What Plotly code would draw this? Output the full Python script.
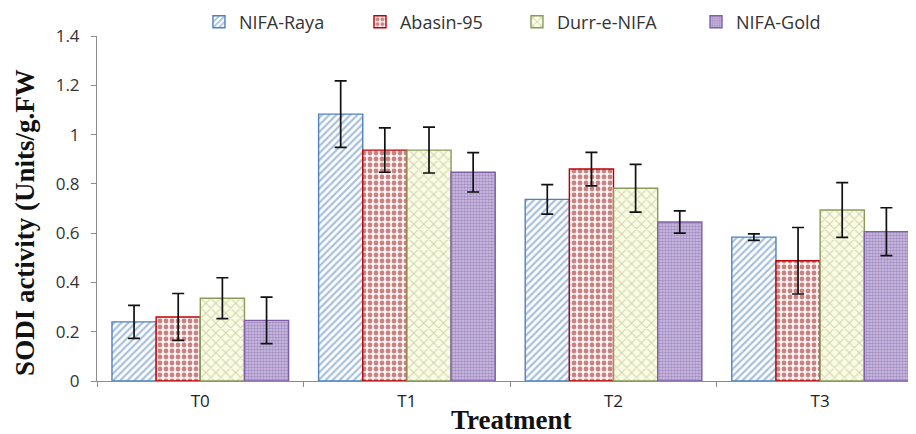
import plotly.graph_objects as go

categories = ["T0", "T1", "T2", "T3"]
series_names = ["NIFA-Raya", "Abasin-95", "Durr-e-NIFA", "NIFA-Gold"]

nifa_raya = [0.24, 1.083, 0.737, 0.584]
nifa_raya_err = [0.067, 0.135, 0.06, 0.013]
abasin_95 = [0.26, 0.937, 0.86, 0.488]
abasin_95_err = [0.095, 0.09, 0.068, 0.135]
durr_e_nifa = [0.336, 0.937, 0.782, 0.694]
durr_e_nifa_err = [0.083, 0.093, 0.097, 0.111]
nifa_gold = [0.246, 0.847, 0.645, 0.606]
nifa_gold_err = [0.094, 0.08, 0.045, 0.097]

y_ticks = [0, 0.2, 0.4, 0.6, 0.8, 1.0, 1.2, 1.4]
y_tick_labels = ["0", "0.2", "0.4", "0.6", "0.8", "1", "1.2", "1.4"]

x_title = "Treatment"
y_title = "SODI activity (Units/g.FW"

values = [nifa_raya, abasin_95, durr_e_nifa, nifa_gold]
errors = [nifa_raya_err, abasin_95_err, durr_e_nifa_err, nifa_gold_err]

styles = [
    dict(line="#4F81BD", pattern=dict(shape="/", fgcolor="#4F81BD", bgcolor="#ffffff",
                                       size=5, solidity=0.45, fillmode="overlay")),
    dict(line="#C00000", pattern=dict(shape=".", fgcolor="#8b1414", bgcolor="#fff2f2",
                                       size=6, solidity=0.5, fillmode="overlay")),
    dict(line="#8a9a5b", pattern=dict(shape="x", fgcolor="#a3b272", bgcolor="#fbfbe6",
                                       size=7, solidity=0.3, fillmode="overlay")),
    dict(line="#7F5FA8", pattern=dict(shape=".", fgcolor="#7a5ca3", bgcolor="#cfc3e4",
                                       size=3, solidity=0.6, fillmode="overlay")),
]

legend_ids = ["legend2", "legend3", "legend4", "legend5"]
legend_x = [0.1245, 0.3211, 0.5128, 0.7314]

fig = go.Figure()
for name, vals, errs, st, lid in zip(series_names, values, errors, styles, legend_ids):
    fig.add_trace(go.Bar(
        name=name,
        x=categories,
        y=vals,
        legend=lid,
        error_y=dict(type="data", array=errs, visible=True, color="#111111",
                     thickness=1.7, width=6),
        marker=dict(color=st["pattern"]["bgcolor"],
                    line=dict(color=st["line"], width=1.4),
                    pattern=st["pattern"]),
    ))

serif = "'Liberation Serif', 'Times New Roman', 'DejaVu Serif', serif"

legend_layout = {}
for lid, lx in zip(legend_ids, legend_x):
    legend_layout[lid] = dict(
        orientation="h", x=lx, xanchor="left",
        yref="container", y=0.967, yanchor="middle",
        font=dict(size=18, family="'Open Sans', sans-serif", color="#333333"),
        bgcolor="rgba(0,0,0,0)",
    )

fig.update_layout(
    width=908,
    height=426,
    barmode="group",
    bargap=0.145,
    bargroupgap=0,
    showlegend=True,
    plot_bgcolor="white",
    paper_bgcolor="white",
    margin=dict(l=89, r=0, t=28, b=53, autoexpand=False),
    font=dict(family="'Open Sans', sans-serif", color="#333333"),
    xaxis=dict(
        range=[-0.5, 3.464],
        showline=True, linecolor="#8c8c8c", linewidth=1,
        ticks="outside", tickson="boundaries", ticklen=5, tickcolor="#8c8c8c",
        ticklabelstandoff=5,
        tickfont=dict(size=17, family="'Open Sans', sans-serif", color="#222222"),
        showgrid=False,
    ),
    yaxis=dict(
        range=[0, 1.4],
        tickvals=y_ticks, ticktext=y_tick_labels,
        showline=True, linecolor="#8c8c8c", linewidth=1,
        ticks="outside", ticklen=5, tickcolor="#8c8c8c",
        ticklabelstandoff=8,
        tickfont=dict(size=17, family="'Open Sans', sans-serif", color="#333333"),
        showgrid=False, zeroline=False,
    ),
    annotations=[
        dict(text="<b>" + x_title + "</b>", xref="paper", yref="paper",
             x=0.505, y=-0.113, xanchor="center", yanchor="middle", showarrow=False,
             font=dict(size=27, family=serif, color="#111111")),
        dict(text="<b>" + y_title + "</b>", xref="paper", yref="paper",
             x=-0.088, y=0.461, xanchor="center", yanchor="middle", showarrow=False,
             textangle=-90,
             font=dict(size=27, family=serif, color="#111111")),
    ],
    **legend_layout,
)

fig.write_html("out.html")
